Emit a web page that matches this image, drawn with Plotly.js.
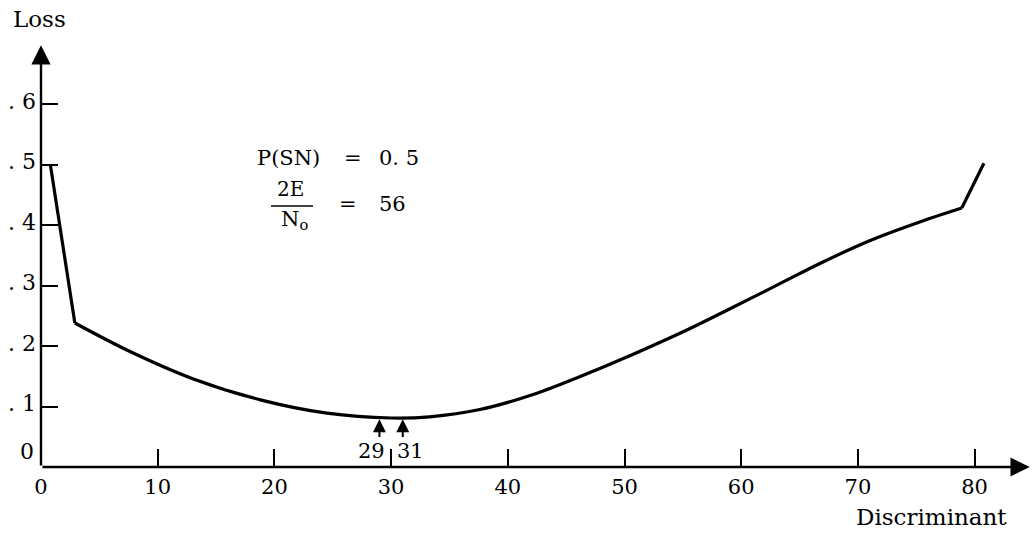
<!DOCTYPE html>
<html>
<head>
<meta charset="utf-8">
<script src="https://cdn.plot.ly/plotly-3.0.1.min.js"></script>
<style>
  html, body { margin: 0; padding: 0; background: #fff; }
  #chart { width: 1032px; height: 536px; }
</style>
</head>
<body>
<div id="chart"></div>
<script>
// ---- data ----
const discriminant = [0.8, 2.9, 7.4, 13.0, 18.8, 24.5, 30.0, 33.3, 37.6, 42.5, 46.0, 50.7, 55.3, 59.3, 62.9, 66.7, 71.0, 75.3, 78.9, 80.8];
const loss         = [0.50, 0.238, 0.193, 0.146, 0.111, 0.089, 0.081, 0.083, 0.095, 0.122, 0.148, 0.186, 0.226, 0.264, 0.299, 0.336, 0.374, 0.405, 0.428, 0.502];
const kinkIndex = [1, 18];           // sharp corners in the drawn curve
const xTickVals = [0, 10, 20, 30, 40, 50, 60, 70, 80];
const xTickText = ["0", "10", "20", "30", "40", "50", "60", "70", "80"];
const yTickVals = [0.1, 0.2, 0.3, 0.4, 0.5, 0.6];
const yTickText = [". 1", ". 2", ". 3", ". 4", ". 5", ". 6"];
const markedX = [29, 31];
const markedLabels = ["29", "31"];

// ---- layout geometry ----
const W = 1032, H = 536;
const mL = 41, mR = 0, mT = 40, mB = 69;
const pw = W - mL - mR, ph = H - mT - mB;
const pxPerX = 11.67, pxPerY = 605;
const xMax = pw / pxPerX, yMax = ph / pxPerY;
const FONT = "DejaVu Serif";
function px(x) { return (x - mL) / pw; }
function py(y) { return (H - mB - y) / ph; }

const seg1 = {x: discriminant.slice(0, kinkIndex[0] + 1), y: loss.slice(0, kinkIndex[0] + 1), shape: 'linear'};
const seg2 = {x: discriminant.slice(kinkIndex[0], kinkIndex[1] + 1), y: loss.slice(kinkIndex[0], kinkIndex[1] + 1), shape: 'spline'};
const seg3 = {x: discriminant.slice(kinkIndex[1]), y: loss.slice(kinkIndex[1]), shape: 'linear'};
const traces = [seg1, seg2, seg3].map(s => ({
  x: s.x, y: s.y, type: 'scatter', mode: 'lines', hoverinfo: 'skip',
  line: {color: '#000', width: 3.2, shape: s.shape, smoothing: 0.9}
}));

const txt = (size) => ({family: FONT, size: size, color: '#000'});
const annotations = [
  // axis arrows
  {x: xMax - 0.2, y: 0, ax: 0, ay: 0, xref: 'x', yref: 'y', axref: 'x', ayref: 'y',
   text: '', showarrow: true, arrowhead: 2, arrowsize: 1.6, arrowwidth: 2.4, arrowcolor: '#000'},
  {x: 0, y: 0.697, ax: 0, ay: 0, xref: 'x', yref: 'y', axref: 'x', ayref: 'y',
   text: '', showarrow: true, arrowhead: 2, arrowsize: 1.6, arrowwidth: 2.4, arrowcolor: '#000'},
  // axis titles
  {xref: 'paper', yref: 'paper', x: px(11), y: py(19), xanchor: 'left', yanchor: 'middle',
   text: 'Loss', showarrow: false, font: txt(23)},
  {xref: 'paper', yref: 'paper', x: px(1009), y: py(517), xanchor: 'right', yanchor: 'middle',
   text: 'Discriminant', showarrow: false, font: txt(23)},
  // zero label of the y axis
  {xref: 'paper', yref: 'paper', x: px(36), y: py(451), xanchor: 'right', yanchor: 'middle',
   text: '0', showarrow: false, font: txt(22)},
  // parameter text
  {xref: 'paper', yref: 'paper', x: px(255), y: py(158), xanchor: 'left', yanchor: 'middle',
   text: 'P(SN)', showarrow: false, font: txt(21)},
  {xref: 'paper', yref: 'paper', x: px(353), y: py(158), xanchor: 'center', yanchor: 'middle',
   text: '=', showarrow: false, font: txt(21)},
  {xref: 'paper', yref: 'paper', x: px(421), y: py(158), xanchor: 'right', yanchor: 'middle',
   text: '0. 5', showarrow: false, font: txt(21)},
  {xref: 'paper', yref: 'paper', x: px(290), y: py(189), xanchor: 'center', yanchor: 'middle',
   text: '2E', showarrow: false, font: txt(20)},
  {xref: 'paper', yref: 'paper', x: px(279), y: py(220), xanchor: 'left', yanchor: 'middle',
   text: 'N<sub>o</sub>', showarrow: false, font: txt(21)},
  {xref: 'paper', yref: 'paper', x: px(348), y: py(204), xanchor: 'center', yanchor: 'middle',
   text: '=', showarrow: false, font: txt(21)},
  {xref: 'paper', yref: 'paper', x: px(377), y: py(204), xanchor: 'left', yanchor: 'middle',
   text: '56', showarrow: false, font: txt(21)}
];

// marked points 29 and 31
markedX.forEach((mx, i) => {
  annotations.push({x: mx, y: 0.079, ax: mx, ay: 0.047, xref: 'x', yref: 'y', axref: 'x', ayref: 'y',
    text: '', showarrow: true, arrowhead: 2, arrowsize: 1.3, arrowwidth: 2, arrowcolor: '#000'});
  annotations.push({x: (markedX[0] + markedX[1]) / 2 + (i === 0 ? -0.35 : 0.35), y: 0.026, xref: 'x', yref: 'y',
    xanchor: i === 0 ? 'right' : 'left', yanchor: 'middle',
    text: markedLabels[i], showarrow: false, font: txt(21)});
});

const layout = {
  width: W, height: H,
  margin: {l: mL, r: mR, t: mT, b: mB, pad: 0},
  paper_bgcolor: '#fff', plot_bgcolor: '#fff',
  showlegend: false,
  xaxis: {
    range: [0, xMax], showgrid: false, zeroline: false, showline: false,
    tickmode: 'array', tickvals: xTickVals, ticktext: xTickText,
    ticks: 'inside', ticklen: 18, tickwidth: 2, tickcolor: '#000',
    ticklabelstandoff: 5,
    tickfont: txt(21)
  },
  yaxis: {
    range: [0, yMax], showgrid: false, zeroline: false, showline: false,
    tickmode: 'array', tickvals: yTickVals, ticktext: yTickText,
    ticks: 'inside', ticklen: 17, tickwidth: 2, tickcolor: '#000',
    ticklabelshift: -3, ticklabelstandoff: 4,
    tickfont: txt(22)
  },
  shapes: [
    {type: 'line', xref: 'paper', yref: 'paper', x0: px(271), x1: px(313), y0: py(206), y1: py(206),
     line: {color: '#000', width: 1.6}}
  ],
  annotations: annotations
};

Plotly.newPlot('chart', traces, layout, {staticPlot: true, displayModeBar: false});
</script>
</body>
</html>
